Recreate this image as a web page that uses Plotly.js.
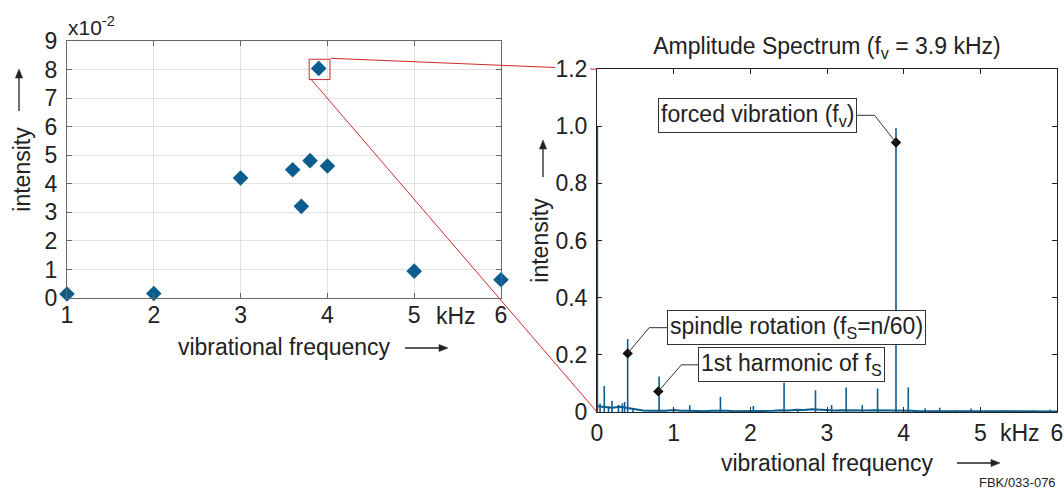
<!DOCTYPE html>
<html>
<head>
<meta charset="utf-8">
<script src="https://cdn.plot.ly/plotly-3.0.1.min.js"></script>
<style>html,body{margin:0;padding:0;background:#fff;}#chart{width:1064px;height:492px;}</style>
</head>
<body>
<div id="chart"></div>
<script>
// ---- Left chart: intensity of forced vibration vs frequency (x10^-2)
const scanFreq = [1.0, 2.0, 3.0, 3.6, 3.7, 3.8, 3.9, 4.0, 5.0, 6.0];
const scanIntensity = [0.14, 0.16, 4.2, 4.49, 3.21, 4.81, 8.04, 4.62, 0.94, 0.64];
const leftXTicks = [1, 2, 3, 4, 5, 6];

// ---- Right chart: amplitude spectrum at fv = 3.9 kHz
const baseFreq = [0.0,0.1,0.2,0.3,0.4,0.5,0.6,0.7,0.8,0.9,1.0,1.1,1.2,1.3,1.4,1.5,1.6,1.7,1.8,1.9,2.0,2.1,2.2,2.3,2.4,2.5,2.6,2.7,2.8,2.9,3.0,3.1,3.2,3.3,3.4,3.5,3.6,3.7,3.8,3.9,4.0,4.1,4.2,4.3,4.4,4.5,4.6,4.7,4.8,4.9,5.0,5.1,5.2,5.3,5.4,5.5,5.6,5.7,5.8,5.9,6.0];
const baseAmp  = [0.020,0.018,0.015,0.018,0.014,0.008,0.005,0.004,0.004,0.004,0.007,0.004,0.004,0.003,0.003,0.004,0.005,0.004,0.003,0.003,0.005,0.004,0.004,0.004,0.006,0.005,0.008,0.007,0.010,0.008,0.005,0.005,0.006,0.005,0.004,0.005,0.006,0.006,0.005,0.006,0.005,0.004,0.003,0.003,0.003,0.003,0.002,0.002,0.002,0.002,0.002,0.002,0.002,0.002,0.002,0.002,0.002,0.002,0.002,0.002,0.002];
const peakFreq = [0.005, 0.04, 0.095, 0.15, 0.195, 0.28, 0.33, 0.36, 0.40, 0.47, 0.81, 1.00, 1.21, 1.61, 2.04, 2.44, 2.62, 2.85, 3.06, 3.25, 3.46, 3.66, 3.90, 4.06, 4.28, 4.47, 4.68, 4.88, 5.09, 5.29, 5.50, 5.69, 5.91];
const peakAmp  = [1.000, 0.030, 0.091, 0.020, 0.039, 0.025, 0.030, 0.035, 0.255, 0.012, 0.124, 0.008, 0.024, 0.053, 0.021, 0.102, 0.008, 0.076, 0.024, 0.086, 0.024, 0.082, 0.993, 0.086, 0.012, 0.015, 0.005, 0.012, 0.004, 0.006, 0.004, 0.005, 0.008];
const rightYTickVals = [0, 0.2, 0.4, 0.6, 0.8, 1.0, 1.2];
const rightYTickText = ['0', '0.2', '0.4', '0.6', '0.8', '1.0', '1.2'];
const rightXTicks = [0, 1, 2, 3, 4, 5, 6];

// labelled points on the spectrum
const markLabels = ['spindle rotation (f<sub>S</sub>=n/60)', '1st harmonic of f<sub>S</sub>', 'forced vibration (f<sub>v</sub>)'];
const markFreq = [0.4, 0.8, 3.9];
const markAmp = [0.205, 0.072, 0.943];

// ---------------------------------------------------------------
const W = 1064, H = 492;
const px = x => x / W;
const py = y => 1 - y / H;
const blue = '#0b5c8f';
const txt = '#222';
const FONT = 'Liberation Sans, Arial, Helvetica, sans-serif';
const FS = 23;

// spikes built from the peak arrays
const spikeX = [], spikeY = [];
peakFreq.forEach((f, i) => { spikeX.push(f, f, null); spikeY.push(0, peakAmp[i], null); });

const traces = [
  { x: scanFreq, y: scanIntensity, xaxis: 'x', yaxis: 'y', type: 'scatter', mode: 'markers',
    marker: { symbol: 'diamond', size: 12, color: blue }, cliponaxis: false, hoverinfo: 'x+y' },
  { x: baseFreq, y: baseAmp, xaxis: 'x2', yaxis: 'y2', type: 'scatter', mode: 'lines',
    line: { color: blue, width: 2 }, hoverinfo: 'skip' },
  { x: spikeX, y: spikeY, xaxis: 'x2', yaxis: 'y2', type: 'scatter', mode: 'lines',
    line: { color: blue, width: 1.6 }, connectgaps: false, hoverinfo: 'skip' },
  { x: markFreq, y: markAmp, xaxis: 'x2', yaxis: 'y2', type: 'scatter', mode: 'markers',
    marker: { symbol: 'diamond', size: 8, color: '#111' }, cliponaxis: false, hoverinfo: 'skip' }
];

// annotation boxes: left x (kHz), centre y, elbow x, horizontal start
const boxLeft = [0.91, 1.32, 0.79];
const boxMidY = [0.295, 0.165, 1.038];
const elbowX = [0.68, 1.10, 3.62];
const lineStartX = [1.3, 1.7, 3.0];

const annotations = [];
const shapes = [];
markLabels.forEach((t, i) => {
  annotations.push({ xref: 'x2', yref: 'y2', x: boxLeft[i], y: boxMidY[i], xanchor: 'left', yanchor: 'middle',
    text: t, showarrow: false, bgcolor: 'white', bordercolor: '#333', borderwidth: 1, borderpad: 2,
    font: { size: FS, color: txt, family: FONT } });
  shapes.push({ type: 'line', xref: 'x2', yref: 'y2', x0: lineStartX[i], y0: boxMidY[i], x1: elbowX[i], y1: boxMidY[i], line: { color: '#333', width: 1 }, layer: 'above' });
  shapes.push({ type: 'line', xref: 'x2', yref: 'y2', x0: elbowX[i], y0: boxMidY[i], x1: markFreq[i], y1: markAmp[i], line: { color: '#333', width: 1 }, layer: 'above' });
});

// zoom indicator (red)
const red = '#d0292b';
shapes.push({ type: 'rect', xref: 'x', yref: 'y', x0: 3.79, x1: 4.03, y0: 7.65, y1: 8.36, line: { color: red, width: 1 } });
shapes.push({ type: 'line', xref: 'paper', yref: 'paper', x0: px(330.5), y0: py(58.3), x1: px(555), y1: py(67.5), line: { color: red, width: 1 } });
shapes.push({ type: 'line', xref: 'paper', yref: 'paper', x0: px(590), y0: py(69), x1: px(597), y1: py(69.3), line: { color: red, width: 1 } });
shapes.push({ type: 'line', xref: 'paper', yref: 'paper', x0: px(310.5), y0: py(78.7), x1: px(597), y1: py(412), line: { color: red, width: 1 } });

// arrows next to axis titles (line + filled head), in page pixels
function arrowShapes(x0, y0, x1, y1) {
  const dx = x1 - x0, dy = y1 - y0, L = Math.hypot(dx, dy), ux = dx / L, uy = dy / L;
  const hl = 9, hw = 3.6;
  const bx = x1 - ux * hl, by = y1 - uy * hl;
  const p1 = [bx - uy * hw, by + ux * hw], p2 = [bx + uy * hw, by - ux * hw];
  shapes.push({ type: 'line', xref: 'paper', yref: 'paper', x0: px(x0), y0: py(y0), x1: px(bx), y1: py(by), line: { color: txt, width: 1.3 } });
  shapes.push({ type: 'path', xref: 'paper', yref: 'paper',
    path: `M${px(x1)},${py(y1)} L${px(p1[0])},${py(p1[1])} L${px(p2[0])},${py(p2[1])} Z`,
    fillcolor: txt, line: { color: txt, width: 0.5 } });
}
arrowShapes(19, 111, 19, 69);
arrowShapes(405, 348, 448, 348);
arrowShapes(543, 177, 543, 140);
arrowShapes(957, 463, 1000, 463);

annotations.push({ xref: 'paper', yref: 'paper', x: px(66), y: py(26), xanchor: 'left', yanchor: 'middle',
  text: 'x10<sup>-2</sup>', showarrow: false, font: { size: 21, color: txt, family: FONT } });
annotations.push({ xref: 'paper', yref: 'paper', x: px(456), y: py(316), xanchor: 'center', yanchor: 'middle',
  text: 'kHz', showarrow: false, font: { size: FS, color: txt, family: FONT } });
annotations.push({ xref: 'paper', yref: 'paper', x: px(1020), y: py(433), xanchor: 'center', yanchor: 'middle',
  text: 'kHz', showarrow: false, font: { size: FS, color: txt, family: FONT } });
annotations.push({ xref: 'paper', yref: 'paper', x: px(1058), y: py(482), xanchor: 'right', yanchor: 'middle',
  text: 'FBK/033-076', showarrow: false, font: { size: 13, color: txt, family: FONT } });

const axCommon = { zeroline: false, showline: true, mirror: 'ticks', ticks: 'inside', ticklen: 5,
  tickfont: { size: FS, color: txt, family: FONT }, fixedrange: true };
const titleFont = { size: FS, color: txt, family: FONT };

const layout = {
  width: W, height: H, margin: { l: 0, r: 0, t: 0, b: 0 },
  paper_bgcolor: 'white', plot_bgcolor: 'white', showlegend: false,
  font: { family: FONT, size: FS, color: txt },
  title: { text: 'Amplitude Spectrum (f<sub>v</sub> = 3.9 kHz)', x: px(827), y: py(46), xanchor: 'center', yanchor: 'middle',
    xref: 'paper', yref: 'paper', font: titleFont },
  xaxis: Object.assign({}, axCommon, { domain: [px(67), px(501)], range: [1, 6], tickvals: leftXTicks, anchor: 'y',
    showgrid: true, gridcolor: '#e2e2e2', linecolor: '#666', tickcolor: '#666', ticklabelstandoff: -4,
    title: { text: 'vibrational frequency', standoff: 12, font: titleFont } }),
  yaxis: Object.assign({}, axCommon, { domain: [py(298), py(41)], range: [0, 9], dtick: 1, anchor: 'x',
    showgrid: true, gridcolor: '#e2e2e2', linecolor: '#666', tickcolor: '#666', ticklabelstandoff: 4,
    title: { text: 'intensity', standoff: 7, font: titleFont } }),
  xaxis2: Object.assign({}, axCommon, { domain: [px(597), px(1057)], range: [0, 6], tickvals: rightXTicks, anchor: 'y2',
    showgrid: false, linecolor: '#222', tickcolor: '#222', ticklabelstandoff: 0,
    title: { text: 'vibrational frequency', standoff: 10, font: titleFont } }),
  yaxis2: Object.assign({}, axCommon, { domain: [py(412), py(69)], range: [0, 1.2], tickvals: rightYTickVals, ticktext: rightYTickText, anchor: 'x2',
    showgrid: false, linecolor: '#222', tickcolor: '#222', ticklabelstandoff: 4,
    title: { text: 'intensity', standoff: 0, font: titleFont } }),
  annotations: annotations,
  shapes: shapes
};

Plotly.newPlot('chart', traces, layout, { displayModeBar: false, staticPlot: true });
</script>
</body>
</html>
